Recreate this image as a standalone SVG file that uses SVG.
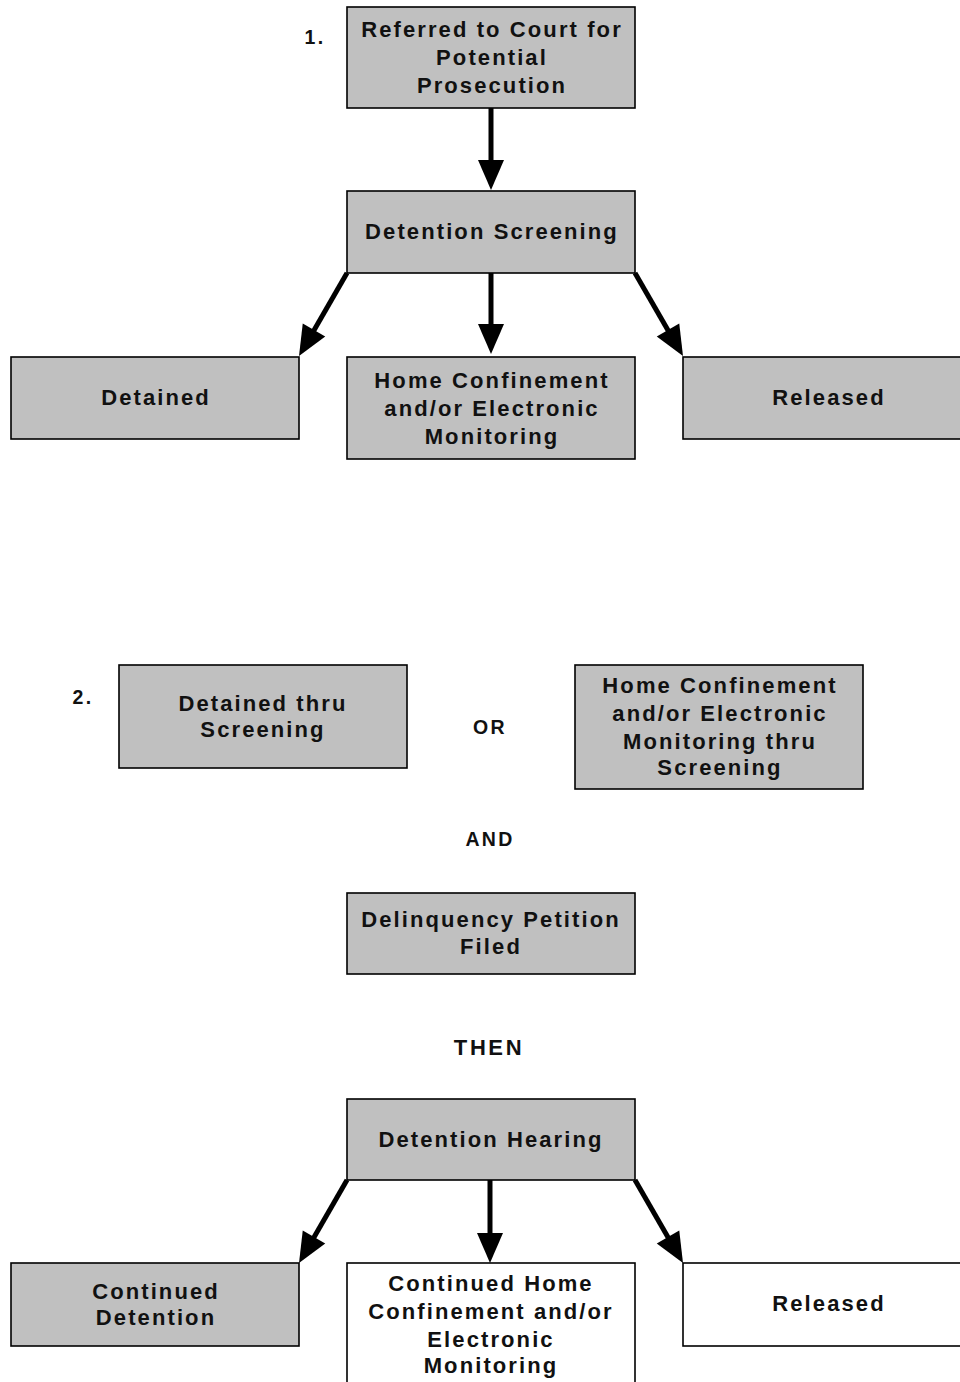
<svg xmlns="http://www.w3.org/2000/svg" width="960" height="1382" viewBox="0 0 960 1382">
<style>
.box{fill:#c0c0c0;stroke:#000;stroke-width:1.6}
.wbox{fill:#fff;stroke:#000;stroke-width:1.6}
text{font-family:"Liberation Sans",Arial,sans-serif;font-weight:bold;font-size:22px;letter-spacing:2.1px;text-anchor:middle;fill:#111}
.conj{font-size:19.5px;letter-spacing:2.3px}
.then{letter-spacing:2.6px}
.shaft{stroke:#000;stroke-width:5;fill:none}
.head{fill:#000}
</style>
<rect width="960" height="1382" fill="#fff"/>
<g id="connectors">
<line class="shaft" x1="491" y1="108" x2="491" y2="162"/>
<polygon class="head" points="478,160 504,160 491,190"/>
<line class="shaft" x1="347" y1="273" x2="313" y2="332"/>
<polygon class="head" points="325.25,336.5 302.75,323.5 299,356"/>
<line class="shaft" x1="491" y1="273" x2="491" y2="326"/>
<polygon class="head" points="478,324 504,324 491,354"/>
<line class="shaft" x1="635" y1="273" x2="669" y2="332"/>
<polygon class="head" points="656.75,336.5 679.25,323.5 683,356"/>
<line class="shaft" x1="347" y1="1180" x2="313" y2="1239"/>
<polygon class="head" points="325.25,1243.5 302.75,1230.5 299,1263"/>
<line class="shaft" x1="490" y1="1180" x2="490" y2="1235"/>
<polygon class="head" points="477,1233 503,1233 490,1263"/>
<line class="shaft" x1="635" y1="1180" x2="669" y2="1239"/>
<polygon class="head" points="656.75,1243.5 679.25,1230.5 683,1263"/>
</g>
<g id="label1"><text class="conj" x="315" y="44">1.</text></g>
<g id="n1"><rect class="box" x="347" y="7" width="288" height="101"/>
<text x="492" y="37">Referred to Court for</text><text x="492" y="65">Potential</text><text x="492" y="93">Prosecution</text></g>
<g id="n2"><rect class="box" x="347" y="191" width="288" height="82"/>
<text x="492" y="239">Detention Screening</text></g>
<g id="n3"><rect class="box" x="11" y="357" width="288" height="82"/>
<text x="156" y="405">Detained</text></g>
<g id="n4"><rect class="box" x="347" y="357" width="288" height="102"/>
<text x="492" y="388">Home Confinement</text><text x="492" y="416">and/or Electronic</text><text x="492" y="444">Monitoring</text></g>
<g id="n5"><rect class="box" x="683" y="357" width="290" height="82"/>
<text x="829" y="405">Released</text></g>
<g id="label2"><text class="conj" x="83" y="704">2.</text></g>
<g id="n6"><rect class="box" x="119" y="665" width="288" height="103"/>
<text x="263" y="711">Detained thru</text><text x="263" y="737">Screening</text></g>
<g id="or"><text class="conj" x="490" y="734">OR</text></g>
<g id="n7"><rect class="box" x="575" y="665" width="288" height="124"/>
<text x="720" y="693">Home Confinement</text><text x="720" y="721">and/or Electronic</text><text x="720" y="749">Monitoring thru</text><text x="720" y="775">Screening</text></g>
<g id="and"><text class="conj" x="490" y="846">AND</text></g>
<g id="n8"><rect class="box" x="347" y="893" width="288" height="81"/>
<text x="491" y="927">Delinquency Petition</text><text x="491" y="954">Filed</text></g>
<g id="then"><text class="then" x="489" y="1055">THEN</text></g>
<g id="n9"><rect class="box" x="347" y="1099" width="288" height="81"/>
<text x="491" y="1147">Detention Hearing</text></g>
<g id="n10"><rect class="box" x="11" y="1263" width="288" height="83"/>
<text x="156" y="1299">Continued</text><text x="156" y="1325">Detention</text></g>
<g id="n11"><rect class="wbox" x="347" y="1263" width="288" height="125"/>
<text x="491" y="1291">Continued Home</text><text x="491" y="1319">Confinement and/or</text><text x="491" y="1347">Electronic</text><text x="491" y="1373">Monitoring</text></g>
<g id="n12"><rect class="wbox" x="683" y="1263" width="290" height="83"/>
<text x="829" y="1311">Released</text></g>
</svg>
